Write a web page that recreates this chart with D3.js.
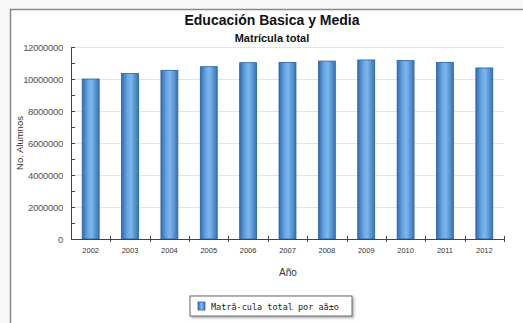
<!DOCTYPE html>
<meta charset="utf-8">
<html>
  <style>
    body, html{ margin: 0; background: #f7f7f7; }
    svg{ display: block; font-family: Arial, "Liberation Sans", sans-serif; }
    .grid line{ stroke: #e4e4e4; stroke-width: 1; }
    .axis path, .axis line{ stroke: #444; fill: none; shape-rendering: crispEdges; }
    .bar{ stroke: #2a5f9e; stroke-width: 0.8; }
  </style>
  <body>
    <svg></svg>
    <script src="https://cdn.jsdelivr.net/npm/d3@7"></script>
    <script>
var years = ['2002','2003','2004','2005','2006','2007','2008','2009','2010','2011','2012']
var matricula = [10000000, 10350000, 10540000, 10770000, 11020000, 11030000, 11120000, 11190000, 11150000, 11040000, 10690000]
var yTicks = [0, 2000000, 4000000, 6000000, 8000000, 10000000, 12000000]
var title = 'Educación Basica y Media'
  , subtitle = 'Matrícula total'
  , legendLabel = 'Matrã-cula total por aã±o'

var w = 523, h = 323
  , m = {left: 71, right: 19, top: 47, bottom: 84}
  , svg = d3.select('svg').attr('width', w).attr('height', h)
  , translate = function(x,y){ return 'translate(' + x + ',' + y + ')' }

// outer frame with shadow
var defs = svg.append('defs')
var f = defs.append('filter').attr('id', 'shadow').attr('x', '-10%').attr('y', '-10%').attr('width', '130%').attr('height', '150%')
f.append('feDropShadow').attr('dx', 1.5).attr('dy', 1.5).attr('stdDeviation', 0.8).attr('flood-color', '#999').attr('flood-opacity', 0.8)

svg.append('rect').attr('x', 10.5).attr('y', 9.5).attr('width', 530).attr('height', 330)
  .attr('fill', '#fff').attr('stroke', '#8a8a8a').attr('stroke-width', 1.5)

var grad = defs.append('linearGradient').attr('id', 'barGrad').attr('x1', 0).attr('x2', 1).attr('y1', 0).attr('y2', 0)
grad.append('stop').attr('offset', '0%').attr('stop-color', '#2f6db3')
grad.append('stop').attr('offset', '35%').attr('stop-color', '#6aa9e4')
grad.append('stop').attr('offset', '55%').attr('stop-color', '#7db6ec')
grad.append('stop').attr('offset', '100%').attr('stop-color', '#3574bb')

var x = d3.scaleBand().domain(years).range([m.left, w - m.right]).paddingInner(0.57).paddingOuter(0.285)
  , xb = d3.scaleLinear().domain([0, years.length]).range([m.left, w - m.right])
  , y = d3.scaleLinear().domain([0, 12000000]).range([h - m.bottom, m.top])

// titles
svg.append('text').attr('x', 272).attr('y', 25).attr('text-anchor', 'middle')
  .attr('font-size', 14).attr('font-weight', 'bold').attr('fill', '#111').text(title)
svg.append('text').attr('x', 272).attr('y', 42).attr('text-anchor', 'middle')
  .attr('font-size', 11).attr('font-weight', 'bold').attr('fill', '#111').text(subtitle)

// grid
svg.append('g').attr('class', 'grid').selectAll('line').data(yTicks.slice(1))
  .enter().append('line')
  .attr('x1', m.left).attr('x2', w - m.right)
  .attr('y1', function(d){ return Math.round(y(d)) + 0.5 })
  .attr('y2', function(d){ return Math.round(y(d)) + 0.5 })

// bars
svg.append('g').selectAll('rect').data(matricula).enter().append('rect')
  .attr('class', 'bar')
  .attr('x', function(d, i){ return x(years[i]) })
  .attr('width', x.bandwidth())
  .attr('y', function(d){ return y(d) })
  .attr('height', function(d){ return y(0) - y(d) })
  .attr('fill', 'url(#barGrad)')

// y axis: major ticks inward, minor ticks every 1M
var yAxis = svg.append('g').attr('class', 'axis').attr('transform', translate(m.left, 0))
  .call(d3.axisLeft(y).tickValues(d3.range(0, 12000001, 1000000)).tickSize(-4).tickSizeOuter(0)
    .tickFormat(function(d){ return d % 2000000 === 0 ? d : '' }))
yAxis.attr('font-size', null).attr('font-family', null)
yAxis.selectAll('text').attr('x', -8).style('font-size', '9.5px').attr('letter-spacing', -0.3).attr('fill', '#555')

// x axis with ticks on band boundaries
var xAxis = svg.append('g').attr('class', 'axis').attr('transform', translate(0, h - m.bottom))
xAxis.append('line').attr('x1', m.left).attr('x2', w - m.right).attr('y1', 0).attr('y2', 0)
xAxis.selectAll('.tk').data(d3.range(1, years.length + 1)).enter().append('line')
  .attr('x1', function(d){ return Math.round(xb(d)) + 0.5 }).attr('x2', function(d){ return Math.round(xb(d)) + 0.5 })
  .attr('y1', -3).attr('y2', 3)
xAxis.selectAll('text').data(years).enter().append('text')
  .attr('x', function(d){ return x(d) + x.bandwidth() / 2 })
  .attr('y', 14).attr('text-anchor', 'middle').style('font-size', '7.5px').attr('fill', '#333')
  .text(function(d){ return d })

// axis titles
svg.append('text').attr('x', 288).attr('y', 276).attr('text-anchor', 'middle')
  .attr('font-size', 10).attr('fill', '#333').text('Año')
svg.append('text').attr('transform', translate(23, 143) + ' rotate(-90)').attr('text-anchor', 'middle')
  .attr('font-size', 9.5).attr('fill', '#333').text('No. Alumnos')

// legend
var lg = svg.append('g').attr('transform', translate(190, 296))
lg.append('rect').attr('width', 162).attr('height', 20).attr('fill', '#fff')
  .attr('stroke', '#666').attr('filter', 'url(#shadow)')
lg.append('rect').attr('x', 8).attr('y', 6).attr('width', 7).attr('height', 8)
  .attr('fill', 'url(#barGrad)').attr('stroke', '#2a5f9e').attr('stroke-width', 0.8)
lg.append('text').attr('x', 21).attr('y', 13.5).attr('font-family', '"DejaVu Sans Mono", monospace')
  .attr('font-size', 8.5).attr('fill', '#222').text(legendLabel)
    </script>
  </body>
</html>
